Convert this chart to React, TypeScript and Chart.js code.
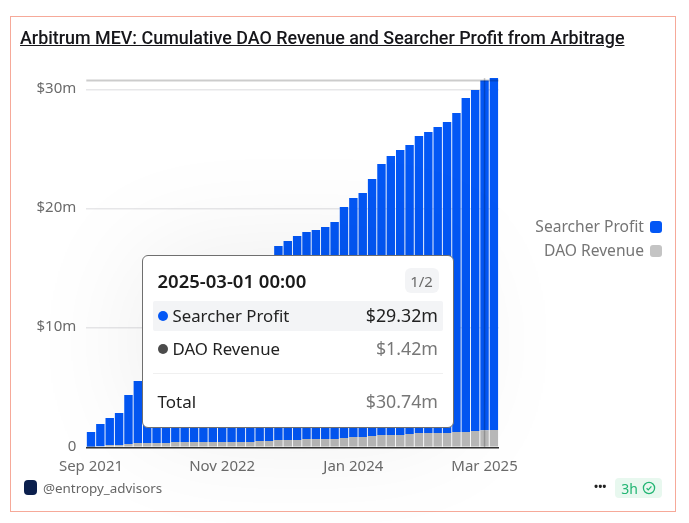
import React, { useEffect, useRef } from "react";
import { Chart, registerables } from "chart.js";

Chart.register(...registerables);

const months = [
  "Sep 2021", "Oct 2021", "Nov 2021", "Dec 2021",
  "Jan 2022", "Feb 2022", "Mar 2022", "Apr 2022", "May 2022", "Jun 2022",
  "Jul 2022", "Aug 2022", "Sep 2022", "Oct 2022", "Nov 2022", "Dec 2022",
  "Jan 2023", "Feb 2023", "Mar 2023", "Apr 2023", "May 2023", "Jun 2023",
  "Jul 2023", "Aug 2023", "Sep 2023", "Oct 2023", "Nov 2023", "Dec 2023",
  "Jan 2024", "Feb 2024", "Mar 2024", "Apr 2024", "May 2024", "Jun 2024",
  "Jul 2024", "Aug 2024", "Sep 2024", "Oct 2024", "Nov 2024", "Dec 2024",
  "Jan 2025", "Feb 2025", "Mar 2025", "Apr 2025",
];

const tickMonths = ["Sep 2021", "Nov 2022", "Jan 2024", "Mar 2025"];
const yTicks = [0, 10, 20, 30];

// $m (the ones behind the tooltip are a guess)
const daoRevenue = [
  0.02, 0.08, 0.2, 0.2, 0.28, 0.36, 0.36, 0.36, 0.36, 0.45, 0.45,
  0.45, 0.45, 0.45, 0.45, 0.45, 0.45, 0.45, 0.53, 0.53, 0.62, 0.62,
  0.62, 0.7, 0.7, 0.7, 0.7, 0.78, 0.87, 0.87, 0.95, 1.03, 1.03,
  1.03, 1.12, 1.2, 1.2, 1.2, 1.2, 1.28, 1.28, 1.37, 1.42, 1.45,
];

const searcherProfit = [
  1.26, 1.87, 2.26, 2.67, 4.1, 5.2, 6.44, 7.84, 8.94, 9.65, 10.45,
  11.05, 11.55, 12.15, 12.7, 13.2, 13.7, 14.3, 14.8, 15.37, 16.25, 16.67,
  17.09, 17.35, 17.51, 17.77, 18.18, 19.36, 20.03, 20.45, 21.54, 22.72, 23.39,
  23.89, 24.22, 24.89, 25.23, 25.65, 26.07, 26.74, 28.0, 28.58, 29.32, 29.51,
];

const hoveredMonth = "Mar 2025";
const hoveredTotal = 30.74;
const highestTotal = 30.96;

const BLUE = "#0357f5";
const GREY = "#b9b9b9";
const SANS = "'Noto Sans', sans-serif";

// the axis pointer of the hovered point
const crosshairPlugin = {
  id: "crosshair",
  afterDatasetsDraw(chart: any) {
    const { ctx, chartArea, scales } = chart;
    const x = scales.x.getPixelForValue(months.indexOf(hoveredMonth));
    const y = scales.y.getPixelForValue(hoveredTotal);
    ctx.save();
    ctx.strokeStyle = "rgba(0,0,0,0.2)";
    ctx.lineWidth = 2;
    ctx.beginPath();
    ctx.moveTo(chartArea.left, y);
    ctx.lineTo(chartArea.right, y);
    ctx.stroke();
    ctx.lineWidth = 1.5;
    ctx.beginPath();
    ctx.moveTo(x, scales.y.getPixelForValue(highestTotal));
    ctx.lineTo(x, chartArea.bottom);
    ctx.stroke();
    ctx.restore();
  },
};

const legendRow = (name: string, color: string, top: number) => (
  <div
    style={{
      position: "absolute",
      right: 689 - 662,
      top,
      height: 20,
      display: "flex",
      alignItems: "center",
      gap: 6,
      fontSize: 15.6,
      color: "#757575",
    }}
  >
    <span style={{ marginTop: -2 }}>{name}</span>
    <span style={{ width: 12, height: 12, borderRadius: 3, background: color }} />
  </div>
);

const tooltipRow = (name: string, value: string, dot: string, top: number, active: boolean) => (
  <div
    style={{
      position: "absolute",
      left: 10,
      right: 10,
      top,
      height: 30,
      background: active ? "#f3f4f6" : "transparent",
      borderRadius: 2,
      display: "flex",
      alignItems: "center",
      fontSize: 16.8,
    }}
  >
    <span style={{ width: 10, height: 10, borderRadius: 5, background: dot, marginLeft: 5, marginRight: 5 }} />
    <span style={{ color: "#222", marginTop: -2 }}>{name}</span>
    <span style={{ marginLeft: "auto", marginRight: 5, marginTop: -2, fontSize: 17.8, color: active ? "#222" : "#777" }}>
      {value}
    </span>
  </div>
);

export default function App() {
  const canvasRef = useRef<HTMLCanvasElement | null>(null);

  useEffect(() => {
    if (!canvasRef.current) return;
    const chart = new Chart(canvasRef.current, {
      type: "bar",
      data: {
        labels: months,
        datasets: [
          { label: "DAO Revenue", data: daoRevenue, backgroundColor: GREY, stack: "a" },
          { label: "Searcher Profit", data: searcherProfit, backgroundColor: BLUE, stack: "a" },
        ],
      },
      options: {
        animation: false,
        responsive: false,
        devicePixelRatio: 1,
        datasets: { bar: { categoryPercentage: 1, barPercentage: 0.9 } },
        layout: { padding: { top: 71.5, right: 190.4, left: 0, bottom: 0 } },
        plugins: { legend: { display: false }, tooltip: { enabled: false } },
        scales: {
          x: {
            stacked: true,
            grid: { display: false },
            border: { color: "#333", width: 1.5 },
            afterFit: (scale: any) => {
              scale.height = 75.7;
            },
            ticks: {
              autoSkip: false,
              maxRotation: 0,
              padding: 2,
              color: "#6b6b6b",
              font: { family: SANS, size: 15 },
              callback(_v: any, i: number) {
                return tickMonths.includes(months[i]) ? months[i] : "";
              },
            },
          },
          y: {
            stacked: true,
            min: 0,
            max: 31.5,
            afterBuildTicks: (scale: any) => {
              scale.ticks = yTicks.map((value) => ({ value }));
            },
            grid: { color: "#e7e7e9", lineWidth: 1.5, drawTicks: false },
            border: { display: false },
            afterFit: (scale: any) => {
              scale.width = 86.3;
            },
            ticks: {
              padding: 10,
              labelOffset: -1,
              color: "#6b6b6b",
              font: { family: SANS, size: 15 },
              callback: (v: any) => (v === 0 ? "0" : `$${v}m`),
            },
          },
        },
      },
      plugins: [crosshairPlugin],
    });
    return () => chart.destroy();
  }, []);

  return (
    <div
      style={{
        position: "absolute",
        left: 0,
        top: 0,
        width: 689,
        height: 523,
        overflow: "hidden",
        background: "#fff",
        fontFamily: SANS,
      }}
    >
      <canvas ref={canvasRef} width={689} height={523} style={{ position: "absolute", left: 0, top: 0 }} />
      <div
        style={{
          position: "absolute",
          left: 10,
          top: 16,
          width: 664,
          height: 494,
          border: "1px solid #f6a999",
          pointerEvents: "none",
        }}
      />
      <div
        style={{
          position: "absolute",
          left: 20,
          top: 27,
          fontFamily: "Roboto, sans-serif",
          fontSize: 17.9,
          fontWeight: 500,
          color: "#16161a",
          textDecoration: "underline",
          whiteSpace: "nowrap",
        }}
      >
        Arbitrum MEV: Cumulative DAO Revenue and Searcher Profit from Arbitrage
      </div>

      {legendRow("Searcher Profit", BLUE, 217)}
      {legendRow("DAO Revenue", "#c4c4c4", 241)}

      <div
        style={{
          position: "absolute",
          left: 141.5,
          top: 255,
          width: 310.5,
          height: 171,
          background: "#fff",
          border: "1px solid #6f6f6f",
          borderRadius: 6,
          boxShadow: "0 0 120px rgba(0,0,0,0.08)",
        }}
      >
        <div style={{ position: "absolute", left: 15, top: 12, fontSize: 18.5, fontWeight: 600, color: "#1a1a1a" }}>
          2025-03-01 00:00
        </div>
        <div
          style={{
            position: "absolute",
            left: 262,
            top: 12,
            width: 34,
            height: 25,
            borderRadius: 6,
            background: "#f3f4f6",
            color: "#6b6b6b",
            fontSize: 15,
            display: "flex",
            alignItems: "center",
            justifyContent: "center",
          }}
        >
          1/2
        </div>
        {tooltipRow("Searcher Profit", "$29.32m", "#0357f5", 45, true)}
        {tooltipRow("DAO Revenue", "$1.42m", "#4b4b4b", 78, false)}
        <div style={{ position: "absolute", left: 10, right: 10, top: 117, height: 1, background: "#f0f0f0" }} />
        <div
          style={{
            position: "absolute",
            left: 15,
            right: 15,
            top: 133,
            display: "flex",
            justifyContent: "space-between",
            alignItems: "center",
            fontSize: 17,
          }}
        >
          <span style={{ color: "#222" }}>Total</span>
          <span style={{ color: "#777", fontSize: 17.8 }}>$30.74m</span>
        </div>
      </div>

      <div
        style={{
          position: "absolute",
          left: 24,
          top: 480,
          width: 13,
          height: 15,
          borderRadius: 4,
          background: "#0b1f4d",
        }}
      />
      <div style={{ position: "absolute", left: 43, top: 479, fontSize: 13.4, color: "#666" }}>@entropy_advisors</div>
      <div style={{ position: "absolute", left: 594, top: 478, fontSize: 11, fontWeight: 700, color: "#222" }}>•••</div>
      <div
        style={{
          position: "absolute",
          left: 615,
          top: 478,
          width: 47,
          height: 20,
          borderRadius: 4,
          background: "#e8f8ef",
          color: "#22b573",
          fontSize: 14,
          display: "flex",
          alignItems: "center",
          justifyContent: "center",
          gap: 4,
        }}
      >
        3h
        <svg width="14" height="14" viewBox="0 0 14 14" fill="none" stroke="#22b573" strokeWidth="1.3">
          <circle cx="7" cy="7" r="5.6" />
          <path d="M4.6 7.2 L6.3 8.9 L9.4 5.4" />
        </svg>
      </div>
    </div>
  );
}
